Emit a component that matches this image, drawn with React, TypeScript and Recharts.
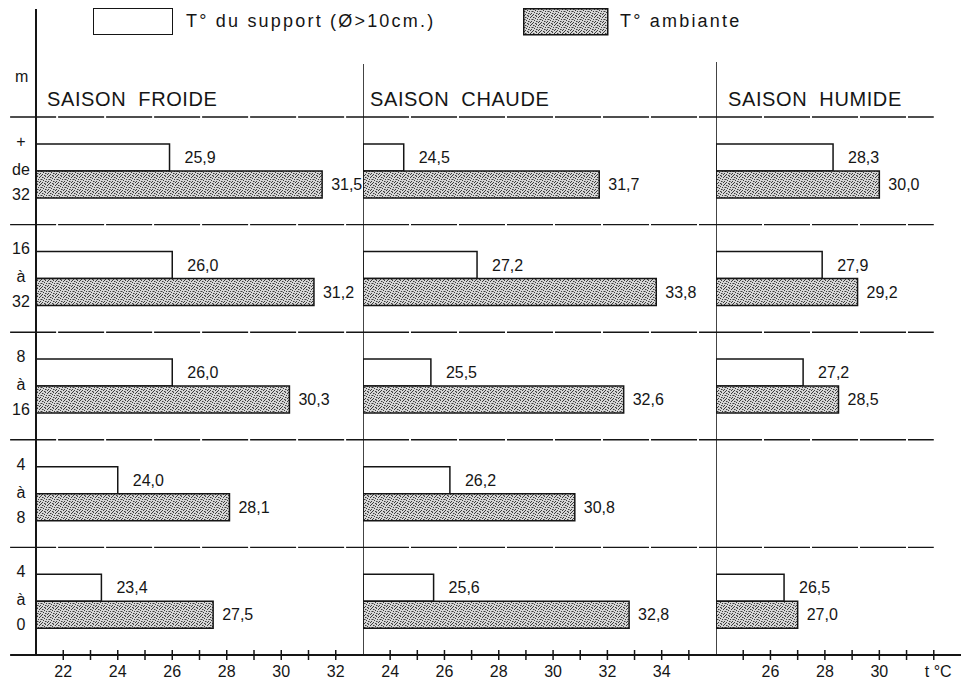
import { BarChart, Bar, XAxis, YAxis, ReferenceLine, LabelList } from 'recharts';

const heights = ['+ de 32', '16 à 32', '8 à 16', '4 à 8', '4 à 0'];

const froideSupport = [25.9, 26.0, 26.0, 24.0, 23.4];
const froideAmbiante = [31.5, 31.2, 30.3, 28.1, 27.5];
const chaudeSupport = [24.5, 27.2, 25.5, 26.2, 25.6];
const chaudeAmbiante = [31.7, 33.8, 32.6, 30.8, 32.8];
const humideSupport = [28.3, 27.9, 27.2, null, 26.5];
const humideAmbiante = [30.0, 29.2, 28.5, null, 27.0];

const froideTicks = [22, 23, 24, 25, 26, 27, 28, 29, 30, 31, 32];
const chaudeTicks = [24, 25, 26, 27, 28, 29, 30, 31, 32, 33, 34, 35];
const humideTicks = [25, 26, 27, 28, 29, 30, 31, 32];

const FONT = '"Liberation Sans", Arial, sans-serif';
const INK = '#151515';
const BAND_TOP = 117;

// stipple texture for the "T° ambiante" fill
const DOTS = [
  [0, 0], [5, 0], [2, 1], [7, 1], [4, 2], [1, 3], [6, 3], [3, 4],
  [0, 5], [5, 5], [7, 6], [2, 6], [4, 7], [1, 7],
];
const GREYS = [[3, 1], [6, 5], [0, 3], [5, 7], [2, 3]];

const fmt = (v: any) => (v == null ? '' : Number(v).toFixed(1).replace('.', ','));

const XTick = (props: any) => {
  const { x, y, payload, unitAt, unitLabel } = props;
  const v = payload.value;
  const isUnit = unitAt === v;
  const label = !isUnit && v % 2 === 0 ? String(v) : '';
  return (
    <g>
      <line x1={x} x2={x} y1={y - 5} y2={y + 5} stroke={INK} strokeWidth={1.5} />
      {label && (
        <text x={x} y={y + 22} textAnchor="middle" fontSize={16} fontFamily={FONT} fill={INK}>
          {label}
        </text>
      )}
      {isUnit && (
        <text x={x - 9} y={y + 22} textAnchor="start" fontSize={16} fontFamily={FONT} fill={INK}>
          {unitLabel}
        </text>
      )}
    </g>
  );
};

const YTick = (props: any) => {
  const { x, y, payload } = props;
  const parts = String(payload.value).split(' ');
  const cx = x - 7;
  return (
    <text textAnchor="middle" fontSize={16} fontFamily={FONT} fill={INK}>
      <tspan x={cx} y={y - 24}>{parts[0]}</tspan>
      <tspan x={cx} y={y + 4}>{parts[1]}</tspan>
      <tspan x={cx} y={y + 29}>{parts[2]}</tspan>
    </text>
  );
};

type PanelProps = {
  support: (number | null)[];
  ambiante: (number | null)[];
  domain: [number, number];
  ticks: number[];
  left: number;
  width: number;
  first?: boolean;
  lineTop: number;
  gridEnd: number;
  unitAt?: number;
};

const Panel = ({ support, ambiante, domain, ticks, left, width, first, lineTop, gridEnd, unitAt }: PanelProps) => {
  const data = heights.map((h, i) => ({ h, support: support[i], ambiante: ambiante[i] }));
  const gridStart = first ? domain[0] - 0.95 : domain[0];
  return (
    <div style={{ position: 'absolute', left, top: 0 }}>
      <BarChart
        width={width}
        height={683}
        data={data}
        layout="vertical"
        margin={{ top: lineTop, right: 0, bottom: 0, left: 0 }}
        barCategoryGap="25%"
        barGap={0}
      >
        <XAxis
          type="number"
          domain={domain}
          ticks={ticks}
          interval={0}
          allowDataOverflow
          height={28}
          axisLine={false}
          tickLine={false}
          tickSize={0}
          tickMargin={0}
          tick={<XTick unitAt={unitAt} unitLabel="t °C" />}
        />
        <YAxis
          type="category"
          dataKey="h"
          width={first ? 36 : 0}
          hide={!first}
          padding={{ top: BAND_TOP - lineTop, bottom: 0 }}
          axisLine={false}
          tickLine={false}
          tick={<YTick />}
        />
        {heights.map((h) => (
          <ReferenceLine
            key={h}
            position="start"
            ifOverflow="visible"
            segment={[{ x: gridStart, y: h }, { x: gridEnd, y: h }]}
            stroke={INK}
            strokeWidth={1.4}
            strokeDasharray="46 2"
          />
        ))}
        <ReferenceLine
          position="end"
          ifOverflow="visible"
          segment={[{ x: gridStart, y: heights[heights.length - 1] }, { x: domain[1], y: heights[heights.length - 1] }]}
          stroke={INK}
          strokeWidth={2}
        />
        <ReferenceLine x={domain[0]} ifOverflow="visible" stroke={INK} strokeWidth={first ? 2 : 1.6} />
        <Bar dataKey="support" fill="#ffffff" stroke={INK} strokeWidth={1.5} isAnimationActive={false}>
          <LabelList dataKey="support" position="right" offset={15} formatter={fmt} fill={INK} fontSize={16} fontFamily={FONT} />
        </Bar>
        <Bar dataKey="ambiante" fill="url(#stipple)" stroke={INK} strokeWidth={1.5} isAnimationActive={false}>
          <LabelList dataKey="ambiante" position="right" offset={9} formatter={fmt} fill={INK} fontSize={16} fontFamily={FONT} />
        </Bar>
      </BarChart>
    </div>
  );
};

const titleStyle = (left: number): React.CSSProperties => ({
  position: 'absolute',
  left,
  top: 88,
  fontFamily: FONT,
  fontSize: 20,
  letterSpacing: 0.6,
  wordSpacing: 6,
  color: INK,
  lineHeight: '22px',
  whiteSpace: 'nowrap',
});

const legendText: React.CSSProperties = {
  position: 'absolute',
  top: 11,
  fontFamily: FONT,
  fontSize: 18,
  letterSpacing: 2.2,
  color: INK,
  whiteSpace: 'nowrap',
};

export default function App() {
  return (
    <div style={{ position: 'absolute', left: 0, top: 0, width: 961, height: 683, background: '#fff', overflow: 'hidden' }}>
      <svg width={0} height={0} style={{ position: 'absolute' }}>
        <defs>
          <pattern id="stipple" width={8} height={8} patternUnits="userSpaceOnUse">
            <rect width={8} height={8} fill="#d6d6d6" />
            {DOTS.map(([dx, dy], i) => (
              <rect key={'d' + i} x={dx} y={dy} width={1} height={1} fill="#3c3c3c" />
            ))}
            {GREYS.map(([dx, dy], i) => (
              <rect key={'g' + i} x={dx} y={dy} width={1} height={1} fill="#8a8a8a" />
            ))}
          </pattern>
        </defs>
      </svg>

      <Panel support={froideSupport} ambiante={froideAmbiante} domain={[21, 33]} ticks={froideTicks} left={0} width={363} first lineTop={9} gridEnd={33} />
      <Panel support={chaudeSupport} ambiante={chaudeAmbiante} domain={[23, 36]} ticks={chaudeTicks} left={363} width={353} lineTop={64} gridEnd={36} />
      <Panel support={humideSupport} ambiante={humideAmbiante} domain={[24, 33]} ticks={humideTicks} left={716} width={245} lineTop={62} gridEnd={32} unitAt={32} />

      {/* legend */}
      <div style={{ position: 'absolute', left: 93, top: 8, width: 78, height: 25, border: `1.5px solid ${INK}`, background: '#fff' }} />
      <div style={{ ...legendText, left: 186 }}>T° du support (Ø&gt;10cm.)</div>
      <svg style={{ position: 'absolute', left: 523, top: 8 }} width={86} height={28}>
        <rect x={0.75} y={0.75} width={84} height={26} fill="url(#stipple)" stroke={INK} strokeWidth={1.5} />
      </svg>
      <div style={{ ...legendText, left: 620 }}>T° ambiante</div>

      <div style={{ position: 'absolute', left: 15, top: 68, fontFamily: FONT, fontSize: 16, color: INK }}>m</div>
      <div style={titleStyle(47)}>SAISON FROIDE</div>
      <div style={titleStyle(370)}>SAISON CHAUDE</div>
      <div style={titleStyle(728)}>SAISON HUMIDE</div>
    </div>
  );
}
